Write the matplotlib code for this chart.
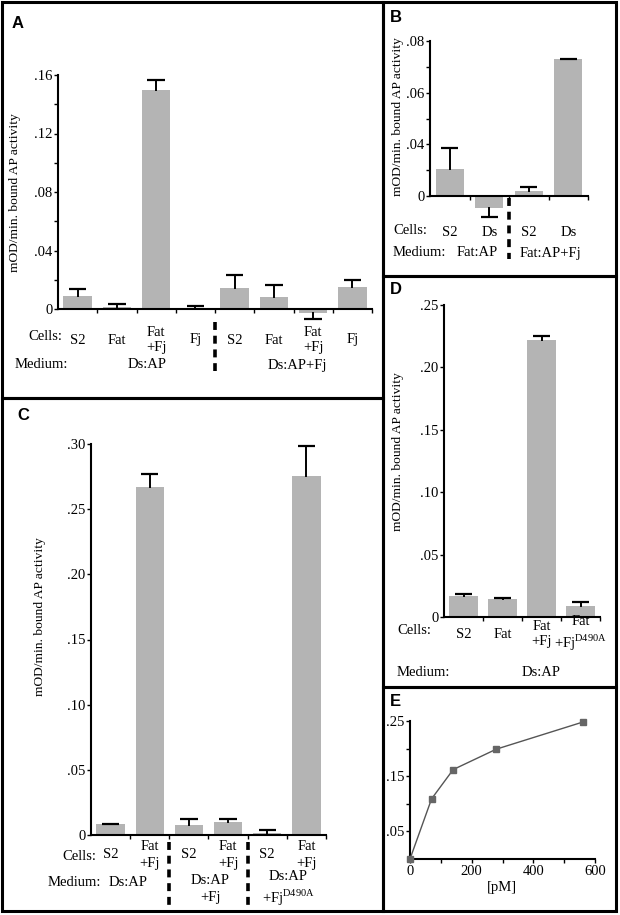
import matplotlib
matplotlib.use('Agg')
import matplotlib.pyplot as plt
from matplotlib.patches import Rectangle
from matplotlib.transforms import blended_transform_factory

# Données
A_cells = ['S2', 'Fat', 'Fat\n+Fj', 'Fj', 'S2', 'Fat', 'Fat\n+Fj', 'Fj']
A_vals = [0.009, 0.0014, 0.1495, 0.0007, 0.0141, 0.0084, -0.0027, 0.015]
A_err = [0.0044, 0.002, 0.0073, 0.0013, 0.0094, 0.0082, 0.0039, 0.005]
A_medium = ['Ds:AP', 'Ds:AP+Fj']

B_cells = ['S2', 'Ds', 'S2', 'Ds']
B_vals = [0.0103, -0.0046, 0.0018, 0.0529]
B_err = [0.0084, 0.0037, 0.0017, 0.0003]
B_medium = ['Fat:AP', 'Fat:AP+Fj']
B_ticklabels = ['0', '.04', '.06', '.08']

C_cells = ['S2', 'Fat\n+Fj', 'S2', 'Fat\n+Fj', 'S2', 'Fat\n+Fj']
C_vals = [0.0084, 0.2667, 0.0074, 0.010, 0.0015, 0.2751]
C_err = [0.0003, 0.0105, 0.0046, 0.002, 0.0021, 0.0234]
C_medium = ['Ds:AP', 'Ds:AP\n+Fj', 'Ds:AP\n+Fj$^{\\mathrm{D490A}}$']

D_cells = ['S2', 'Fat', 'Fat\n+Fj', 'Fat\n+Fj$^{\\mathrm{D490A}}$']
D_vals = [0.0166, 0.0147, 0.2219, 0.0086]
D_err = [0.0016, 0.0003, 0.0032, 0.0032]
D_medium = ['Ds:AP']

E_conc = [0, 70, 140, 280, 560]
E_vals = [0, 0.109, 0.162, 0.199, 0.248]

YLABEL = 'mOD/min. bound AP activity'

# Style
plt.rcParams['font.family'] = ['Liberation Serif', 'DejaVu Serif']
plt.rcParams['mathtext.fontset'] = 'custom'
plt.rcParams['mathtext.rm'] = 'Liberation Serif'
FS = 10.5
FS_YLAB = 9.7
BAR_COLOR = '#b4b4b4'
LS = 1.3

W, H = 620, 915
fig = plt.figure(figsize=(W / 100, H / 100), dpi=100)


def fy(y):
    return 1 - y / H


def make_axes(x0, x1, y_zero, y_top, v_top, v_bot):
    ppu = (y_zero - y_top) / v_top
    y_bot = y_zero - v_bot * ppu
    ax = fig.add_axes([x0 / W, 1 - y_bot / H, (x1 - x0) / W, (y_bot - y_top) / H])
    ax.set_ylim(v_bot, v_top)
    ax.patch.set_alpha(0)
    return ax


def bar_panel(ax, vals, errs, top):
    n = len(vals)
    xs = list(range(n))
    ax.bar(xs, vals, width=0.72, color=BAR_COLOR, zorder=2)
    for x, v, e in zip(xs, vals, errs):
        end = v + e if v >= 0 else v - e
        ax.plot([x, x], [v, end], color='k', lw=1.4, zorder=3, clip_on=False)
        ax.plot([x - 0.22, x + 0.22], [end, end], color='k', lw=1.6, zorder=3,
                clip_on=False, solid_capstyle='butt')
    ax.set_xlim(-0.5, n - 0.5)
    ax.spines['top'].set_visible(False)
    ax.spines['right'].set_visible(False)
    ax.spines['bottom'].set_position(('data', 0))
    ax.spines['left'].set_bounds(0, top)
    ax.spines['left'].set_linewidth(1.5)
    ax.spines['bottom'].set_linewidth(1.5)
    ax.set_xticks([i + 0.5 for i in range(n)])
    ax.set_xticklabels([])
    ax.tick_params(axis='x', direction='out', length=3, width=1)
    ax.tick_params(axis='y', which='both', direction='out', length=3, width=1,
                   labelsize=FS, pad=1)


def cell_labels(ax, labels, y, medium, medium_x, medium_y, seps, sep_y):
    tr = blended_transform_factory(ax.transData, fig.transFigure)
    for i, lab in enumerate(labels):
        ax.text(i, fy(y), lab, transform=tr, ha='center', va='center',
                fontsize=FS, linespacing=LS)
    for lab, mx, my in zip(medium, medium_x, medium_y):
        ax.text(mx, fy(my), lab, transform=tr, ha='center', va='center',
                fontsize=FS, linespacing=LS)
    for s in seps:
        ax.plot([s, s], [fy(sep_y[0]), fy(sep_y[1])], transform=tr, color='k',
                lw=2.6, ls=(0, (2.2, 1.6)), clip_on=False)


def fig_text(x, y, s, **kw):
    fig.text(x / W, fy(y), s, **kw)


# Panneau A
axA = make_axes(58, 372, 309, 75, 0.16, -0.009)
bar_panel(axA, A_vals, A_err, 0.16)
axA.set_yticks([0, 0.04, 0.08, 0.12, 0.16])
axA.set_yticklabels(['0', '.04', '.08', '.12', '.16'])
axA.set_yticks([0.02, 0.06, 0.10, 0.14], minor=True)
cell_labels(axA, A_cells, 340, A_medium, [1.77, 5.6], [365, 366], [3.5], (322, 371))
fig_text(28, 337, 'Cells:', fontsize=FS, va='center')
fig_text(15, 365, 'Medium:', fontsize=FS, va='center')
fig_text(15, 193, YLABEL, fontsize=FS_YLAB, rotation=90, ha='center', va='center')

# Panneau B
axB = make_axes(430, 588, 196, 41, 0.06, -0.009)
bar_panel(axB, B_vals, B_err, 0.06)
axB.set_yticks([0, 0.02, 0.04, 0.06])
axB.set_yticklabels(B_ticklabels)
axB.set_yticks([0.01, 0.03, 0.05], minor=True)
cell_labels(axB, B_cells, 232, B_medium, [0.69, 2.54], [253, 253], [1.5], (198, 259))
fig_text(393, 230, 'Cells:', fontsize=FS, va='center')
fig_text(393, 253, 'Medium:', fontsize=FS, va='center')
fig_text(398, 117, YLABEL, fontsize=FS_YLAB, rotation=90, ha='center', va='center')

# Panneau C
axC = make_axes(91, 326, 835, 444, 0.30, 0)
bar_panel(axC, C_vals, C_err, 0.30)
axC.set_yticks([0, 0.05, 0.10, 0.15, 0.20, 0.25, 0.30])
axC.set_yticklabels(['0', '.05', '.10', '.15', '.20', '.25', '.30'])
cell_labels(axC, C_cells, 855, C_medium, [0.44, 2.54, 4.53], [883, 889, 889],
            [1.5, 3.5], (842, 905))
fig_text(62, 856, 'Cells:', fontsize=FS, va='center')
fig_text(48, 883, 'Medium:', fontsize=FS, va='center')
fig_text(40, 617, YLABEL, fontsize=FS_YLAB, rotation=90, ha='center', va='center')

# Panneau D
axD = make_axes(444, 600, 617, 305, 0.25, 0)
bar_panel(axD, D_vals, D_err, 0.25)
axD.set_yticks([0, 0.05, 0.10, 0.15, 0.20, 0.25])
axD.set_yticklabels(['0', '.05', '.10', '.15', '.20', '.25'])
cell_labels(axD, D_cells, 634, D_medium, [2.0], [672], [], (0, 0))
fig_text(397, 630, 'Cells:', fontsize=FS, va='center')
fig_text(397, 672, 'Medium:', fontsize=FS, va='center')
fig_text(398, 452, YLABEL, fontsize=FS_YLAB, rotation=90, ha='center', va='center')

# Panneau E
axE = make_axes(410, 595, 859, 721, 0.25, 0)
axE.set_xlim(0, 600)
axE.plot(E_conc, E_vals, color='#555555', lw=1, marker='s', ms=4,
         mfc='#666666', mec='#666666', clip_on=False, zorder=3)
axE.spines['top'].set_visible(False)
axE.spines['right'].set_visible(False)
axE.spines['left'].set_linewidth(1.5)
axE.spines['bottom'].set_linewidth(1.5)
axE.set_yticks([0.05, 0.10, 0.15, 0.20, 0.25])
axE.set_yticklabels(['.05', '', '.15', '', '.25'])
axE.set_xticks([0, 100, 200, 300, 400, 500, 600])
axE.set_xticklabels(['0', '', '200', '', '400', '', '600'])
axE.tick_params(direction='out', length=3, width=1, labelsize=FS, pad=1)
fig_text(502, 887, '[pM]', fontsize=FS, ha='center', va='center')

# Cadres des panneaux
frames = [(2, 2, 383, 398), (383, 2, 616, 276), (383, 276, 616, 687),
          (2, 398, 383, 911), (383, 687, 616, 911)]
for x0, y0, x1, y1 in frames:
    fig.patches.append(Rectangle((x0 / W, fy(y1)), (x1 - x0) / W, (y1 - y0) / H,
                                 transform=fig.transFigure, fill=False,
                                 edgecolor='k', lw=2.2))

# Lettres des panneaux
letters = [('A', 12, 23), ('B', 390, 18), ('C', 17, 415), ('D', 390, 290), ('E', 390, 702)]
for lettre, x, y in letters:
    fig_text(x, y, lettre, fontsize=12, fontweight='bold', va='center',
             family=['Liberation Sans', 'DejaVu Sans'])

fig.savefig('out.png', dpi=100)
